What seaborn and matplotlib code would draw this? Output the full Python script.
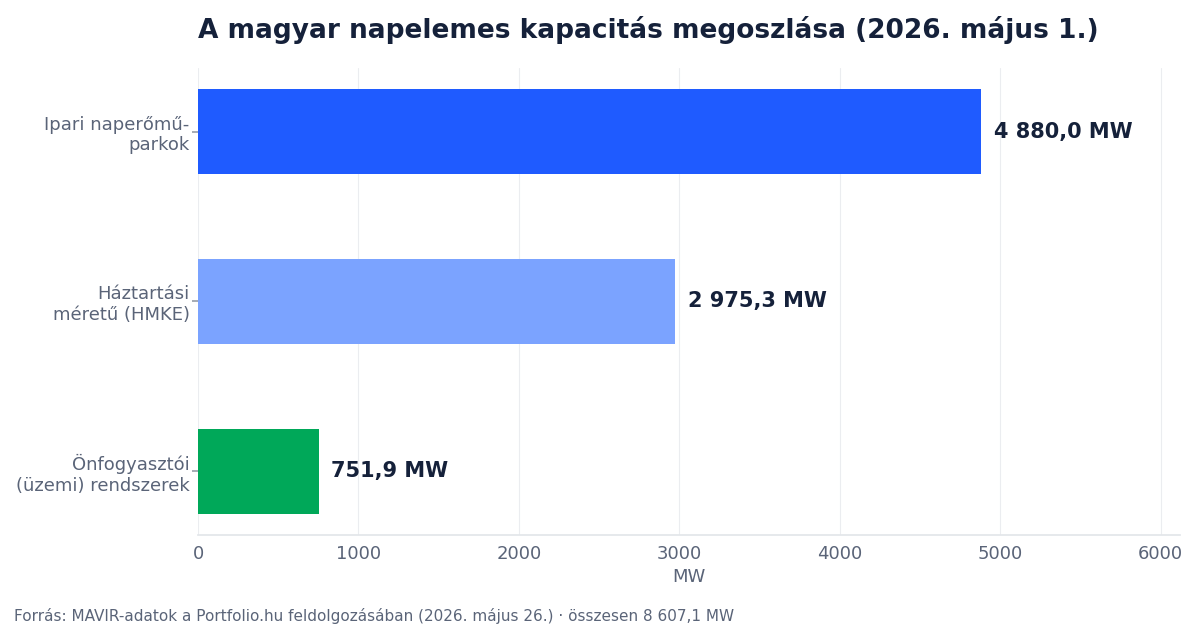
import matplotlib
matplotlib.use("Agg")
import matplotlib.pyplot as plt
import seaborn as sns
import pandas as pd

# Adatok
categories = ["Ipari naperőmű-\nparkok", "Háztartási\nméretű (HMKE)", "Önfogyasztói\n(üzemi) rendszerek"]
values = [4880.0, 2975.3, 751.9]
value_labels = ["4 880,0 MW", "2 975,3 MW", "751,9 MW"]
colors = ["#1F5BFF", "#7BA3FF", "#00A859"]

df = pd.DataFrame({"kategoria": categories, "MW": values})

sns.set_theme(style="white")
plt.rcParams["font.family"] = ["DejaVu Sans"]

text_dark = "#15213A"
text_gray = "#5A6478"

fig = plt.figure(figsize=(12, 6.3), dpi=100)
ax = fig.add_axes([0.165, 0.151, 0.818, 0.741])

sns.barplot(data=df, x="MW", y="kategoria", hue="kategoria", palette=colors,
            width=0.5, legend=False, ax=ax, saturation=1, linewidth=0)

for i, (v, lab) in enumerate(zip(values, value_labels)):
    ax.text(v + 80, i, lab, va="center", ha="left", fontsize=15,
            fontweight="bold", color=text_dark)

ax.set_xlim(0, 6118)
ax.set_ylim(2.375, -0.375)
ax.set_xticks([0, 1000, 2000, 3000, 4000, 5000, 6000])
ax.grid(axis="x", color="#EBEDF0", linewidth=0.8)
ax.set_axisbelow(True)
for s in ["top", "right", "left"]:
    ax.spines[s].set_visible(False)
ax.spines["bottom"].set_color("#E3E6EA")
ax.tick_params(axis="x", colors="#9AA1AC", labelcolor=text_gray, labelsize=13, length=4, pad=3)
ax.tick_params(axis="y", colors="#9AA1AC", labelcolor=text_gray, labelsize=13, length=4, pad=2, left=True)
ax.set_xlabel("MW", fontsize=13, color=text_gray)
ax.set_ylabel("")

fig.text(0.165, 0.953, "A magyar napelemes kapacitás megoszlása (2026. május 1.)",
         fontsize=19, fontweight="bold", color=text_dark, ha="left", va="center")
fig.text(0.012, 0.022, "Forrás: MAVIR-adatok a Portfolio.hu feldolgozásában (2026. május 26.) · összesen 8 607,1 MW",
         fontsize=11, color=text_gray, ha="left", va="center")

fig.savefig("out.png", dpi=100)
